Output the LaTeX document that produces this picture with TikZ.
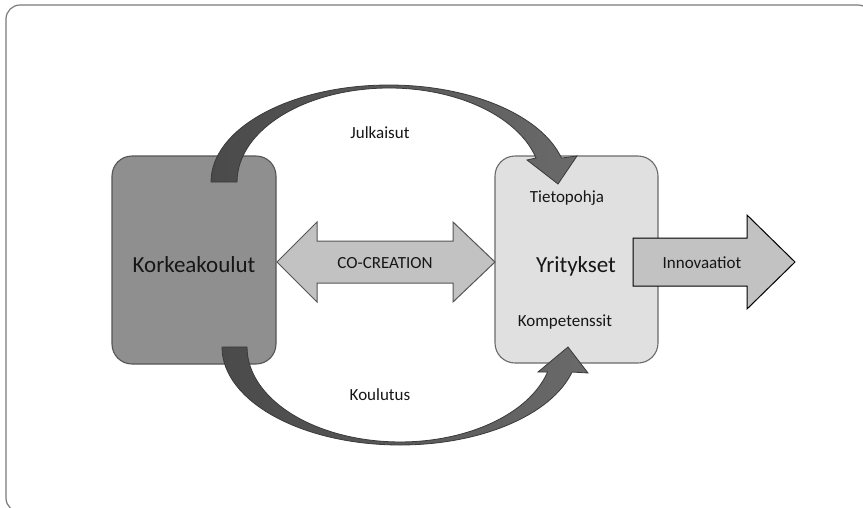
\documentclass[tikz,border=0pt]{standalone}
\usepackage{fontspec}
\setmainfont{Carlito}
\definecolor{txt}{HTML}{161616}
\definecolor{frame}{HTML}{7A7A7A}
\definecolor{darkbox}{HTML}{8F8F8F}
\definecolor{darkedge}{HTML}{555555}
\definecolor{lightbox}{HTML}{E0E0E0}
\definecolor{lightedge}{HTML}{6A6A6A}
\definecolor{flowfill}{HTML}{C2C2C2}
\definecolor{bendedge}{HTML}{3A3A3A}
\definecolor{bendleft}{HTML}{4A4A4A}
\definecolor{bendright}{HTML}{6A6A6A}
\begin{document}
\begin{tikzpicture}[x=1pt,y=1pt,
  lbl/.style={font=\fontsize{17}{20}\selectfont, text=txt, inner sep=0pt},
  biglbl/.style={font=\fontsize{23}{27}\selectfont, text=txt, inner sep=0pt},
  unit/.style={rounded corners=20pt, line width=1.1pt, inner sep=0pt},
  curvedflow/.style={draw=bendedge, line width=0.8pt, left color=bendleft, right color=bendright},
  flat/.style={fill=flowfill, line width=1pt, line join=miter}]
\useasboundingbox (0,0) rectangle (863,-507);
\clip (0,0) rectangle (863,-507);

% outer frame, running past the right and bottom edges
\draw[frame, line width=1.2pt, rounded corners=14pt] (6,-5) rectangle (872,-512);

% the two parties
\node[unit, draw=darkedge, fill=darkbox, minimum width=164pt, minimum height=208pt]
  (korkea) at (194,-260) {};
\node[unit, draw=lightedge, fill=lightbox, minimum width=163pt, minimum height=207pt]
  (yritys) at (576.5,-259.5) {};

% upper bent arrow (publications)
\path[curvedflow]
  (211,-182) arc[start angle=180, end angle=14.3, x radius=178, y radius=97]
  -- (577,-156) -- (558,-184) -- (527,-160) -- (536,-158)
  arc[start angle=14.8, end angle=180, x radius=152, y radius=94] -- cycle;

% lower bent arrow (training)
\path[curvedflow]
  (222,-347) arc[start angle=180, end angle=345.2, x radius=178, y radius=98]
  -- (588,-373) -- (568,-347) -- (538,-372) -- (547.6,-372)
  arc[start angle=344.7, end angle=180, x radius=153, y radius=95] -- cycle;

% two-way arrow between the parties
\draw[flat, draw=darkedge]
  (277,-262) -- (317,-222) -- (317,-241) -- (453,-241) -- (453,-222)
  -- (495,-262) -- (453,-302) -- (453,-283) -- (317,-283) -- (317,-302) -- cycle;

% outgoing arrow
\draw[flat, draw=black]
  (633,-238) -- (747,-238) -- (747,-215) -- (795,-262) -- (747,-309)
  -- (747,-286) -- (633,-286) -- cycle;

% labels
\node[biglbl] (tkorkea) at (194,-265) {Korkeakoulut};
\node[biglbl] (tyritys) at (576,-266) {Yritykset};
\node[lbl] (tieto) at (567,-198) {Tietopohja};
\node[lbl] (kompe) at (565,-322) {Kompetenssit};
\node[lbl] (cocre) at (385,-263) {CO-CREATION};
\node[lbl] (innov) at (702,-263) {Innovaatiot};
\node[lbl] (julk) at (380,-133) {Julkaisut};
\node[lbl] (koul) at (380,-395) {Koulutus};
\end{tikzpicture}
\end{document}
